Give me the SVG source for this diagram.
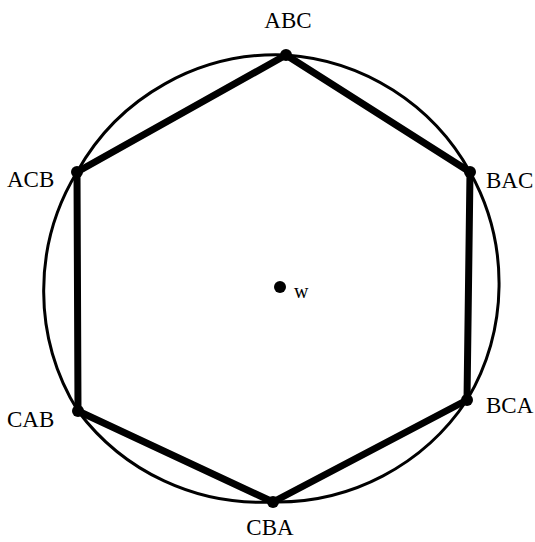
<svg xmlns="http://www.w3.org/2000/svg" width="535" height="542" viewBox="0 0 535 542">
<style>
.lbl{font-family:"Liberation Serif","Times New Roman",serif;font-size:23px;fill:#000}
.hex{fill:none;stroke:#000;stroke-width:7;stroke-linejoin:round}
.circ{fill:none;stroke:#000;stroke-width:3}
.dot{fill:#000}
</style>
<rect width="535" height="542" fill="#fff"/>
<g id="connectors">
<path class="circ" d="M286,55 A228,228 0 0 1 470,172 A228,228 0 0 1 467,400 A228,228 0 0 1 273,502 A228,228 0 0 1 78,411 A228,228 0 0 1 77,172 A228,228 0 0 1 286,55 Z"/>
<path class="hex" d="M286,55 L470,172 L467,400 L273,502 L78,411 L77,172 Z"/>
</g>
<g id="ABC"><circle class="dot" cx="286" cy="55" r="6"/><text class="lbl" x="288" y="28" text-anchor="middle">ABC</text></g>
<g id="BAC"><circle class="dot" cx="470" cy="172" r="6"/><text class="lbl" x="486" y="188">BAC</text></g>
<g id="BCA"><circle class="dot" cx="467" cy="400" r="6"/><text class="lbl" x="486" y="413">BCA</text></g>
<g id="CBA"><circle class="dot" cx="273" cy="502" r="6"/><text class="lbl" x="270" y="535" text-anchor="middle">CBA</text></g>
<g id="CAB"><circle class="dot" cx="78" cy="411" r="6"/><text class="lbl" x="7" y="427">CAB</text></g>
<g id="ACB"><circle class="dot" cx="77" cy="172" r="6"/><text class="lbl" x="7" y="187">ACB</text></g>
<g id="w"><circle class="dot" cx="280" cy="287" r="6"/><text class="lbl" x="294" y="298" style="font-size:20px">w</text></g>
</svg>
